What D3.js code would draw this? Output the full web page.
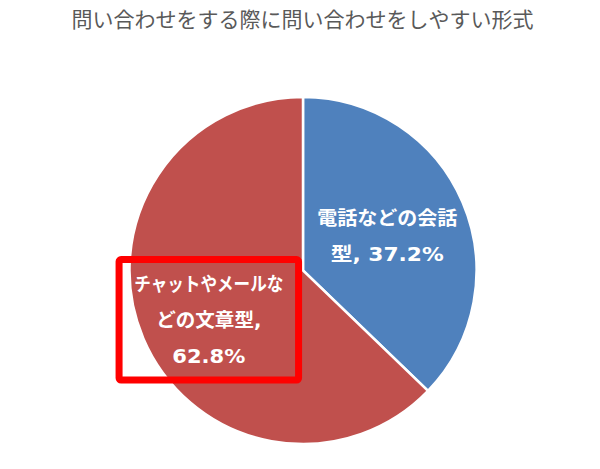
<!DOCTYPE html>
<html>
<head>
<meta charset="utf-8">
<script src="https://cdn.jsdelivr.net/npm/d3@7"></script>
<style>
  html, body { margin: 0; padding: 0; background: #ffffff; }
  svg { display: block; }
</style>
</head>
<body>
<svg id="chart" width="600" height="469"></svg>
<script>
// ---- data ----
const title = "問い合わせをする際に問い合わせをしやすい形式";
const categories = ["電話などの会話型", "チャットやメールなどの文章型"];
const values = [37.2, 62.8];
const labelLines = [
  ["電話などの会話", "型, 37.2%"],
  ["チャットやメールな", "どの文章型,", "62.8%"]
];
const colors = ["#4F81BD", "#C0504D"];
const highlightIndex = 1;

const W = 600, H = 469;
const cx = 303, cy = 270.5, R = 173.5;
const titleFont = "'Noto Sans CJK JP', 'Noto Sans', sans-serif";
const labelFont = "'DejaVu Sans', 'Noto Sans CJK JP', sans-serif";
const lineWidths = [[140, 113], [149, 105, 73]];
const nudges = [[-6, 4], [-4, 11]];
const lineH = 36;

const svg = d3.select("#chart");

svg.append("text")
  .attr("x", 302.5)
  .attr("y", 27)
  .attr("text-anchor", "middle")
  .attr("font-family", titleFont)
  .attr("font-size", 21)
  .attr("fill", "#595959")
  .text(title);

const pie = d3.pie().sort(null).startAngle(0).endAngle(2 * Math.PI);
const arcs = pie(values);
const arc = d3.arc().innerRadius(0).outerRadius(R);
const labelArc = d3.arc().innerRadius(98).outerRadius(98);

const g = svg.append("g").attr("transform", `translate(${cx},${cy})`);

g.selectAll("path.slice")
  .data(arcs)
  .join("path")
  .attr("class", "slice")
  .attr("d", arc)
  .attr("fill", (d, i) => colors[i])
  .attr("stroke", "#ffffff")
  .attr("stroke-width", 2.5)
  .attr("stroke-linejoin", "miter");

const labels = g.selectAll("g.label")
  .data(arcs)
  .join("g")
  .attr("class", "label")
  .attr("transform", (d, i) => {
    const c = labelArc.centroid(d);
    return `translate(${c[0] + nudges[i][0]},${c[1] + nudges[i][1]})`;
  });

labels.each(function(d, i) {
  const lines = labelLines[i];
  const n = lines.length;
  const sel = d3.select(this);
  if (i === highlightIndex) {
    sel.append("rect")
      .attr("x", -89.75)
      .attr("y", -60.25)
      .attr("width", 179.5)
      .attr("height", 120.5)
      .attr("rx", 2)
      .attr("fill", "none")
      .attr("stroke", "#FF0000")
      .attr("stroke-width", 7);
  }
  sel.selectAll("text")
    .data(lines)
    .join("text")
    .attr("x", 0)
    .attr("y", (t, k) => (k - (n - 1) / 2) * lineH)
    .attr("dy", "0.36em")
    .attr("text-anchor", "middle")
    .attr("font-family", labelFont)
    .attr("font-weight", "bold")
    .attr("font-size", 19)
    .attr("fill", "#ffffff")
    .attr("textLength", (t, k) => lineWidths[i][k])
    .attr("lengthAdjust", "spacingAndGlyphs")
    .text(t => t);
});
</script>
</body>
</html>
